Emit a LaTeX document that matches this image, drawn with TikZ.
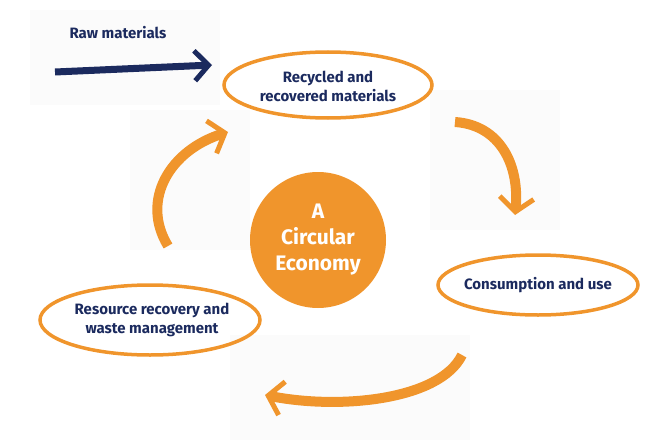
\documentclass[tikz,border=0pt]{standalone}
\usepackage{fontspec}
\setmainfont{Fira Sans}
\usetikzlibrary{arrows.meta}
\definecolor{navy}{HTML}{1B2A5E}
\definecolor{orng}{HTML}{F0952C}
\begin{document}
\begin{tikzpicture}[x=1pt,y=-1pt,
  lbl/.style={text=navy,font=\fontsize{15}{19}\selectfont\bfseries,align=center},
  ring/.style={draw=orng,line width=3.5pt},
  arr/.style={draw=orng,line width=10pt,-{Straight Barb[length=14pt,width=34pt,line width=5pt]}}]
\useasboundingbox (0,0) rectangle (666,444);
\fill[gray!3] (30,10) rectangle (220,105);
\fill[gray!3] (430,90) rectangle (560,230);
\fill[gray!3] (130,110) rectangle (250,250);
\fill[gray!3] (230,335) rectangle (470,440);
\node[lbl] (raw) at (118,33) {Raw materials};
\coordinate (ra) at (55,72);
\coordinate (rb) at (212,65);
\draw[navy,line width=7pt,-{Straight Barb[length=14pt,width=30pt,line width=5pt]}] (ra) -- (rb);
\draw[ring] (328,85) ellipse (104 and 33);
\node[lbl] (rec) at (328,86) {Recycled and\\recovered materials};
\fill[orng] (318,240) circle (68);
\node[text=white,font=\fontsize{21}{26}\selectfont\bfseries,align=center] (ce) at (318,240) {A\\Circular\\Economy};
\draw[ring] (538,285) ellipse (100 and 30);
\node[lbl] (con) at (538,285) {Consumption and use};
\draw[ring] (150,320) ellipse (110 and 35);
\node[lbl] (res) at (152,320) {Resource recovery and\\waste management};
\coordinate (a1) at (455,122); \coordinate (a2) at (515,215);
\draw[arr] (a1) .. controls (500,125) and (520,165) .. (a2);
\coordinate (b1) at (462,355); \coordinate (b2) at (265,395);
\draw[arr] (b1) .. controls (440,400) and (340,410) .. (b2);
\coordinate (c1) at (168,246); \coordinate (c2) at (228,132);
\draw[arr] (c1) .. controls (140,200) and (170,150) .. (c2);
\end{tikzpicture}
\end{document}
